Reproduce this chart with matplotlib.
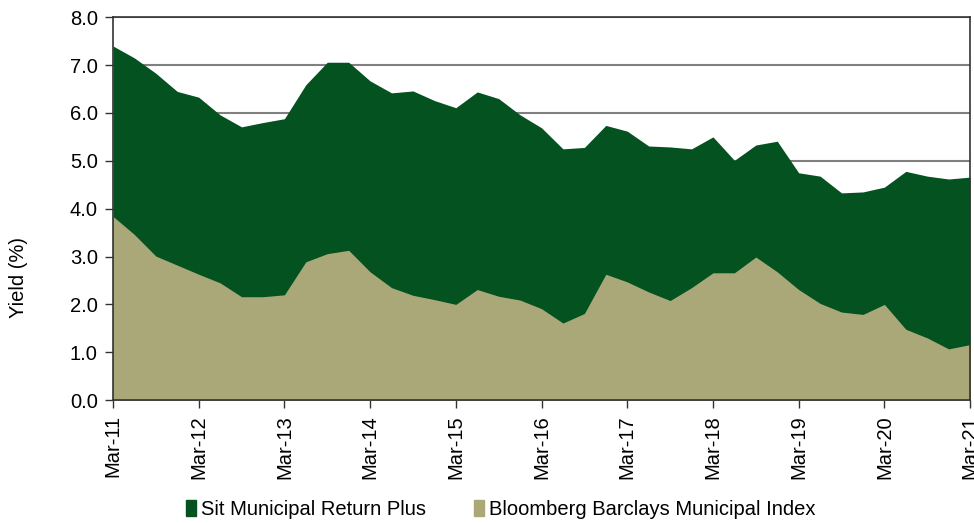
import matplotlib.pyplot as plt
from matplotlib.patches import Patch
import numpy as np

plt.rcParams['font.family'] = ['Liberation Sans', 'DejaVu Sans']

# quarterly yields, Mar-11 .. Mar-21
sit = [7.40, 7.15, 6.83, 6.45, 6.33, 5.96, 5.71, 5.80, 5.88, 6.59,
       7.06, 7.06, 6.67, 6.42, 6.46, 6.26, 6.11, 6.44, 6.30, 5.96,
       5.69, 5.25, 5.28, 5.74, 5.62, 5.31, 5.29, 5.25, 5.50, 5.01,
       5.33, 5.41, 4.75, 4.68, 4.33, 4.35, 4.45, 4.78, 4.68, 4.62,
       4.66]
bbg = [3.84, 3.46, 3.01, 2.82, 2.63, 2.45, 2.16, 2.16, 2.20, 2.89,
       3.06, 3.13, 2.68, 2.35, 2.19, 2.10, 2.00, 2.31, 2.17, 2.09,
       1.91, 1.61, 1.81, 2.63, 2.47, 2.26, 2.08, 2.35, 2.66, 2.66,
       2.99, 2.68, 2.31, 2.02, 1.84, 1.79, 2.00, 1.48, 1.30, 1.07,
       1.16]
year_labels = ['Mar-11', 'Mar-12', 'Mar-13', 'Mar-14', 'Mar-15', 'Mar-16',
               'Mar-17', 'Mar-18', 'Mar-19', 'Mar-20', 'Mar-21']
series_names = ['Sit Municipal Return Plus', 'Bloomberg Barclays Municipal Index']

green = '#03521F'
tan = '#AAA878'
fs = 14.5

fig = plt.figure(figsize=(9.74, 5.23), dpi=100)
ax = fig.add_axes([0.116, 0.235, 0.880, 0.732])

x = np.arange(len(sit))
ax.fill_between(x, 0, sit, color=green, lw=0, zorder=2)
ax.fill_between(x, 0, bbg, color=tan, lw=0, zorder=3)

ax.set_xlim(0, len(sit) - 1)
ax.set_ylim(0, 8)
yt = np.arange(0, 8.1, 1.0)
ax.set_yticks(yt)
ax.set_yticklabels([f'{v:.1f}' for v in yt], fontsize=fs)
ax.set_xticks(np.arange(0, len(sit), 4))
ax.set_xticklabels(year_labels, rotation=90, fontsize=fs)
ax.yaxis.grid(True, color='#808080', lw=1.5, zorder=1)
ax.set_axisbelow(True)
ax.tick_params(direction='out', length=6, width=1, color='#333333', pad=5)
for s in ax.spines.values():
    s.set_color('#333333')
    s.set_linewidth(1.2)
    s.set_zorder(4)
ax.set_ylabel('Yield (%)', fontsize=fs)
ax.yaxis.set_label_coords(-0.099, 0.32)

handles = [Patch(color=green), Patch(color=tan)]
fig.legend(handles, series_names, loc='center', bbox_to_anchor=(0.514, 0.026),
           ncol=2, frameon=False, fontsize=fs, handlelength=0.5, handleheight=0.8,
           handletextpad=0.25, columnspacing=2.35, borderpad=0)

fig.savefig('out.png', dpi=100)
